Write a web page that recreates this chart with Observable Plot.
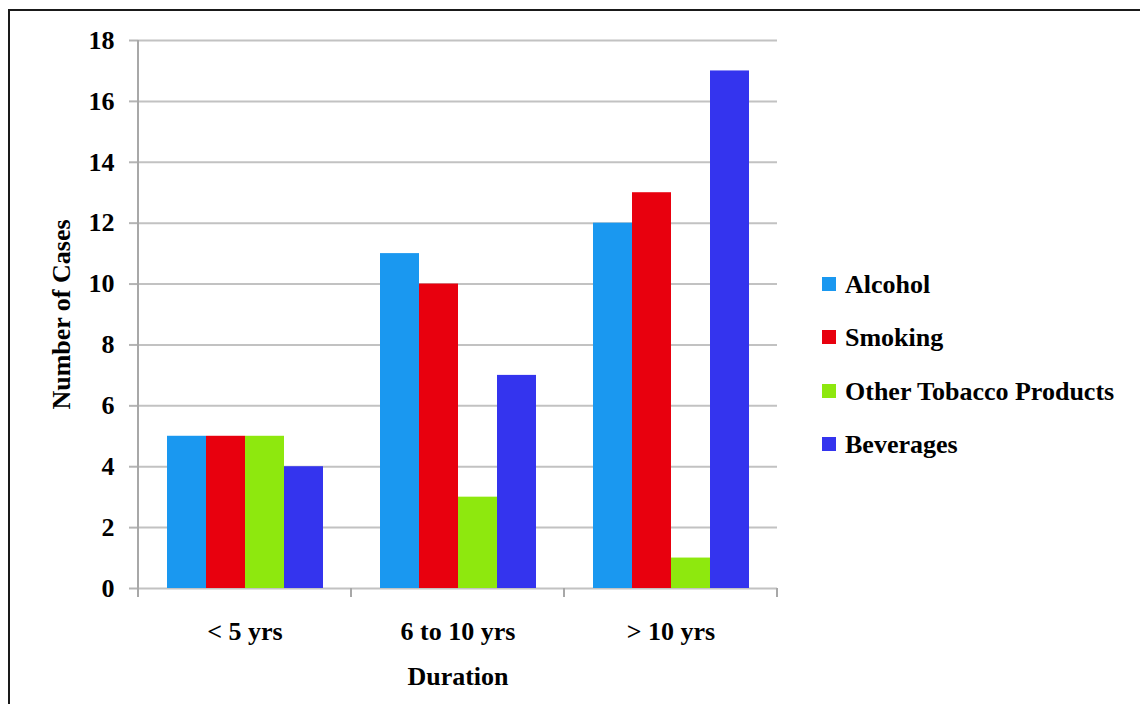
<!DOCTYPE html>
<html>
<head>
<meta charset="utf-8">
<script src="https://cdn.jsdelivr.net/npm/d3@7"></script>
<script src="https://cdn.jsdelivr.net/npm/@observablehq/plot@0.6"></script>
<style>
  html, body { margin: 0; padding: 0; background: #fff; width: 1140px; height: 704px; overflow: hidden; }
  #wrap { position: relative; width: 1140px; height: 704px; }
  #border { position: absolute; left: 8px; top: 9px; width: 1150px; height: 720px; border: 2px solid #1a1a1a; box-sizing: border-box; }
  #chart { position: absolute; left: 0; top: 0; }
  #legend { position: absolute; left: 822px; top: 258px; font-family: "Liberation Serif", "Times New Roman", serif; font-weight: bold; font-size: 26px; color: #000; }
  .item { height: 53.5px; display: flex; align-items: center; white-space: nowrap; }
  .sw { width: 14px; height: 14px; margin-right: 9px; margin-top: -2px; }
</style>
</head>
<body>
<div id="wrap">
  <div id="border"></div>
  <div id="chart"></div>
  <div id="legend"></div>
</div>
<script>
// ---- data ----
const durations = ["< 5 yrs", "6 to 10 yrs", "> 10 yrs"];
const seriesNames = ["Alcohol", "Smoking", "Other Tobacco Products", "Beverages"];
const seriesColors = ["#1a98f0", "#e8000e", "#8ee80e", "#3434ee"];
const alcohol = [5, 11, 12];
const smoking = [5, 10, 13];
const otherTobacco = [5, 3, 1];
const beverages = [4, 7, 17];
const yTicks = [0, 2, 4, 6, 8, 10, 12, 14, 16, 18];

const seriesValues = [alcohol, smoking, otherTobacco, beverages];
const data = durations.flatMap((d, i) =>
  seriesNames.map((s, j) => ({duration: d, series: s, value: seriesValues[j][i]}))
);

const font = "'Liberation Serif', 'Times New Roman', serif";

const plot = Plot.plot({
  width: 1140,
  height: 704,
  marginLeft: 137,
  marginRight: 363,
  marginTop: 40,
  marginBottom: 116,
  style: {fontFamily: font, fontWeight: "bold", fontSize: "26px", background: "transparent", color: "#000", overflow: "visible"},
  fx: {domain: durations, padding: 0, label: "Duration"},
  x: {domain: seriesNames, paddingInner: 0, paddingOuter: 0.73, axis: null},
  y: {domain: [0, 18], label: "Number of Cases", labelArrow: "none"},
  color: {domain: seriesNames, range: seriesColors},
  marks: [
    Plot.gridY(yTicks, {stroke: "#c2c2c2", strokeOpacity: 1, strokeWidth: 2}),
    Plot.axisY(yTicks, {tickSize: 9, tickPadding: 15, stroke: "#b4b4b4", strokeWidth: 2, label: "Number of Cases", labelArrow: "none", labelAnchor: "center", labelOffset: 87, fontSize: 26, fontWeight: "bold"}),
    Plot.axisFx({anchor: "bottom", tickSize: 0, tickPadding: 33, label: "Duration", labelAnchor: "center", labelOffset: 96, fontSize: 26, fontWeight: "bold"}),
    Plot.barY(data, {fx: "duration", x: "series", y: "value", fill: "series"})
  ]
});
document.getElementById("chart").appendChild(plot);

// axis line and group-boundary ticks from the library's scales
try {
  const fx = plot.scale("fx");
  const y = plot.scale("y");
  const svg = d3.select(plot);
  const y0 = y.apply(0), yTop = y.apply(18);
  const edges = durations.map(d => fx.apply(d));
  edges.push(fx.apply(durations[durations.length - 1]) + fx.bandwidth);
  const g = svg.append("g").attr("stroke", "#a8a8a8").attr("stroke-width", 2);
  g.append("line").attr("x1", edges[0]).attr("x2", edges[0]).attr("y1", yTop).attr("y2", y0 + 9);
  edges.slice(1).forEach(x => g.append("line").attr("x1", x).attr("x2", x).attr("y1", y0).attr("y2", y0 + 9));
} catch (e) { console.error(e); }

// legend
const legend = d3.select("#legend");
seriesNames.forEach((s, i) => {
  const it = legend.append("div").attr("class", "item");
  it.append("div").attr("class", "sw").style("background", seriesColors[i]);
  it.append("span").text(s);
});
</script>
</body>
</html>
